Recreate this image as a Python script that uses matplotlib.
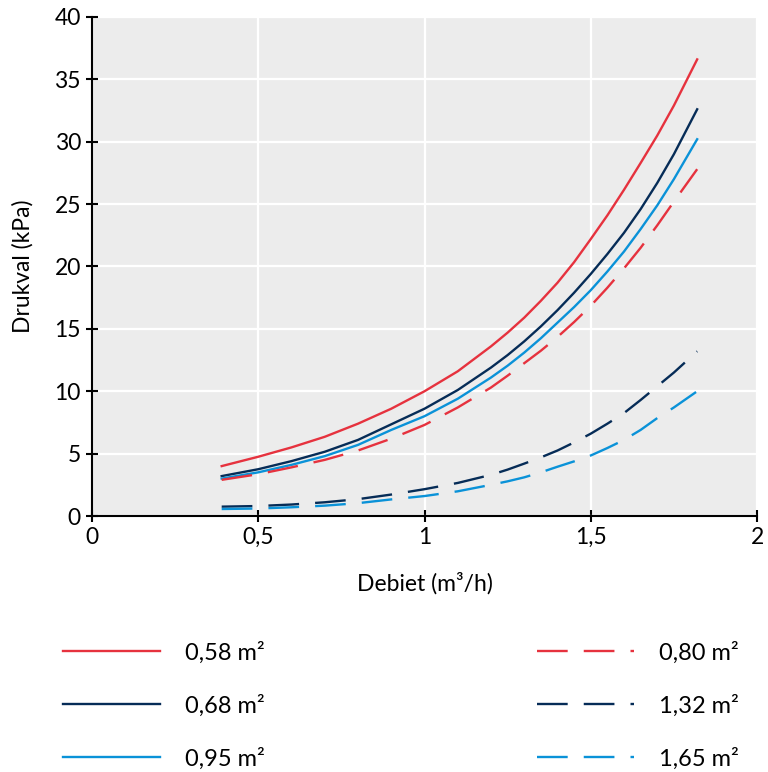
import matplotlib
matplotlib.use("Agg")
import matplotlib.pyplot as plt
from matplotlib.ticker import FixedLocator, FuncFormatter

plt.rcParams['font.family'] = ['Lato', 'DejaVu Sans']

# debiet (m3/h)
debiet = [0.39, 0.5, 0.6, 0.7, 0.8, 0.9, 1.0, 1.1, 1.2, 1.25, 1.3, 1.35, 1.4, 1.45,
          1.5, 1.55, 1.6, 1.65, 1.7, 1.75, 1.82]

# drukval (kPa) per oppervlak
dp_058 = [4.0, 4.75, 5.5, 6.35, 7.4, 8.6, 10.0, 11.6, 13.6, 14.7, 15.9, 17.25, 18.7, 20.35,
          22.2, 24.1, 26.15, 28.3, 30.5, 32.9, 36.6]
dp_068 = [3.2, 3.75, 4.4, 5.15, 6.1, 7.35, 8.6, 10.1, 11.9, 12.9, 14.0, 15.2, 16.5, 17.9,
          19.4, 21.0, 22.7, 24.6, 26.7, 29.0, 32.6]
dp_095 = [3.0, 3.5, 4.1, 4.8, 5.7, 6.9, 8.0, 9.4, 11.1, 12.05, 13.1, 14.25, 15.5, 16.75,
          18.1, 19.6, 21.2, 23.0, 24.9, 27.0, 30.2]
dp_080 = [2.9, 3.35, 3.9, 4.5, 5.25, 6.2, 7.3, 8.7, 10.3, 11.25, 12.25, 13.25, 14.35, 15.55,
          16.85, 18.3, 19.85, 21.5, 23.3, 25.2, 27.8]
dp_132 = [0.75, 0.8, 0.92, 1.1, 1.35, 1.72, 2.15, 2.65, 3.3, 3.72, 4.2, 4.7, 5.25, 5.9,
          6.6, 7.4, 8.25, 9.3, 10.4, 11.5, 13.2]
dp_165 = [0.56, 0.6, 0.7, 0.83, 1.03, 1.33, 1.6, 1.98, 2.5, 2.78, 3.1, 3.5, 3.95, 4.38,
          4.85, 5.45, 6.1, 6.9, 7.85, 8.7, 10.0]

labels_left = ['0,58 m²', '0,68 m²', '0,95 m²']
labels_right = ['0,80 m²', '1,32 m²', '1,65 m²']

red = '#e6323e'
navy = '#062c57'
blue = '#0a92d8'

fig = plt.figure(figsize=(7.68, 7.72), dpi=100)
ax = fig.add_axes([0.1198, 0.3316, 0.8659, 0.6464])
ax.set_facecolor('#ececec')

lw = 1.7
dash = (13, 6.8)
l1, = ax.plot(debiet, dp_058, color=red, lw=lw)
l2, = ax.plot(debiet, dp_068, color=navy, lw=lw)
l3, = ax.plot(debiet, dp_095, color=blue, lw=lw)
l4, = ax.plot(debiet, dp_080, color=red, lw=lw, dashes=dash)
l5, = ax.plot(debiet, dp_132, color=navy, lw=lw, dashes=dash)
l6, = ax.plot(debiet, dp_165, color=blue, lw=lw, dashes=dash)

ax.set_xlim(0, 2)
ax.set_ylim(0, 40)
ax.xaxis.set_major_locator(FixedLocator([0, 0.5, 1, 1.5, 2]))
ax.yaxis.set_major_locator(FixedLocator(range(0, 41, 5)))
ax.xaxis.set_major_formatter(FuncFormatter(lambda v, p: ('%g' % v).replace('.', ',')))

ax.grid(True, color='white', lw=1.6)
ax.set_axisbelow(True)
for s in ['top', 'right']:
    ax.spines[s].set_visible(False)
for s in ['left', 'bottom']:
    ax.spines[s].set_linewidth(1.5)
    ax.spines[s].set_zorder(5)
ax.tick_params(direction='inout', length=8, width=1.5, labelsize=16.5, pad=4)

ax.set_xlabel('Debiet (m³/h)', fontsize=16.5, labelpad=17)
ax.set_ylabel('Drukval (kPa)', fontsize=16.5, labelpad=15)

leg_kw = dict(frameon=False, fontsize=17, handlelength=4.1, handletextpad=1.06,
              labelspacing=1.3, borderpad=0, borderaxespad=0)
fig.legend([l1, l2, l3], labels_left, loc='upper left',
           bbox_to_anchor=(0.082, 0.169), **leg_kw)
fig.legend([l4, l5, l6], labels_right, loc='upper left',
           bbox_to_anchor=(0.699, 0.169), **leg_kw)

fig.savefig('out.png', dpi=100)
